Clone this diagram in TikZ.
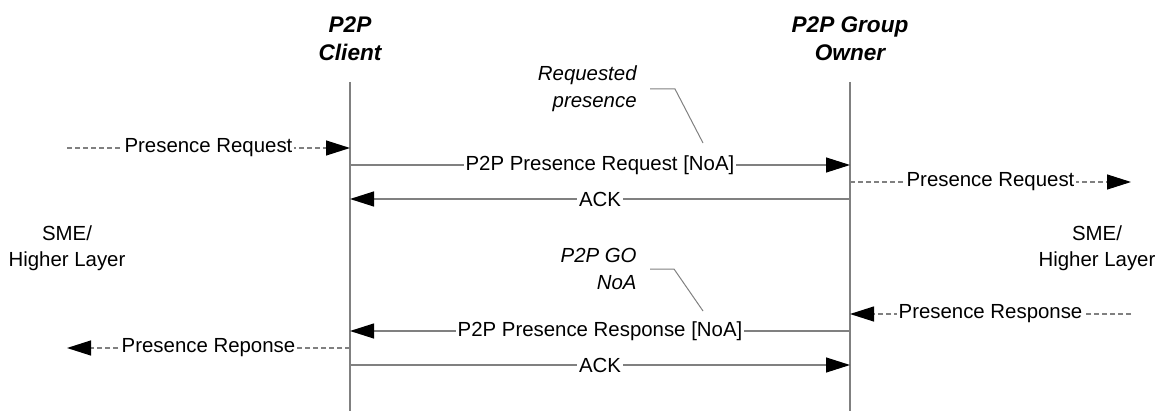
\documentclass[tikz,border=0pt]{standalone}
\usepackage{fontspec}
\setmainfont{Liberation Sans}
\usepackage{tikz}
\usetikzlibrary{arrows.meta}
\definecolor{linegray}{RGB}{128,128,128}
\tikzset{
  es/.style={-{Triangle[length=12pt,width=7.5pt,color=black]}},
  msg/.style={es,draw=linegray,line width=0.6pt},
  dmsg/.style={msg,dash pattern=on 2.5pt off 1.5pt},
  lbl/.style={fill=white,inner xsep=1pt,inner ysep=0.5pt,font=\fontsize{10.2}{13}\selectfont},
  note/.style={anchor=east,align=right,inner xsep=6.5pt,font=\fontsize{10.2}{13.5}\selectfont\itshape},
  head/.style={align=center,font=\fontsize{11.3}{14}\selectfont\bfseries\itshape},
  callout/.style={draw=linegray,line width=0.5pt},
  lifeline/.style={draw=linegray,line width=0.7pt}
}

\begin{document}
\begin{tikzpicture}[yscale=-1,scale=0.5]
			\useasboundingbox (0pt,0pt) rectangle (1159pt,411pt);
			% lifelines
			\node[head] (clientHead) at (350pt,39pt) {P2P\\Client};
			\node[head] (goHead) at (850pt,39pt) {P2P Group\\Owner};
			\coordinate (client) at (350pt,82pt);
			\coordinate (clientEnd) at (350pt,411pt);
			\coordinate (go) at (850pt,82pt);
			\coordinate (goEnd) at (850pt,411pt);
			\draw[lifeline] (client) -- (clientEnd);
			\draw[lifeline] (go) -- (goEnd);
			\node[lbl,fill=none,align=center] (smeLeft) at (67pt,248pt) {SME/\\Higher Layer};
			\node[lbl,fill=none,align=center] (smeRight) at (1097pt,248pt) {SME/\\Higher Layer};
			% request phase
			\coordinate (reqIn) at (67pt,148pt);
			\coordinate (noaReq) at (350pt,165pt);
			\coordinate (reqOut) at (1131pt,182pt);
			\coordinate (ackGo) at (850pt,199pt);
			\draw[dmsg] (reqIn) -- node[lbl]{Presence Request} (reqIn -| client);
			\draw[msg] (noaReq) -- node[lbl]{P2P Presence Request [NoA]} (noaReq -| go);
			\draw[dmsg] (reqOut -| go) -- node[lbl]{Presence Request} (reqOut);
			\draw[msg] (ackGo) -- node[lbl]{ACK} (ackGo -| client);
			\node[note] (reqNote) at (650pt,89pt) {Requested\\presence};
			\coordinate (reqBend) at (675pt,89pt);
			\coordinate (reqTip) at (703pt,143pt);
			\draw[callout] (reqNote.east) -- (reqBend) -- (reqTip);
			% response phase
			\coordinate (rspIn) at (1131pt,314pt);
			\coordinate (noaRsp) at (850pt,331pt);
			\coordinate (rspOut) at (67pt,348pt);
			\coordinate (ackClient) at (350pt,365pt);
			\draw[dmsg] (rspIn) -- node[lbl]{Presence Response} (rspIn -| go);
			\draw[msg] (noaRsp) -- node[lbl]{P2P Presence Response [NoA]} (noaRsp -| client);
			\draw[dmsg] (rspOut -| client) -- node[lbl]{Presence Reponse} (rspOut);
			\draw[msg] (ackClient) -- node[lbl]{ACK} (ackClient -| go);
			\node[note] (noaNote) at (650pt,269pt) {P2P GO\\NoA};
			\coordinate (noaBend) at (674pt,269pt);
			\coordinate (noaTip) at (703pt,311pt);
			\draw[callout] (noaNote.east) -- (noaBend) -- (noaTip);
		\end{tikzpicture}
\end{document}
